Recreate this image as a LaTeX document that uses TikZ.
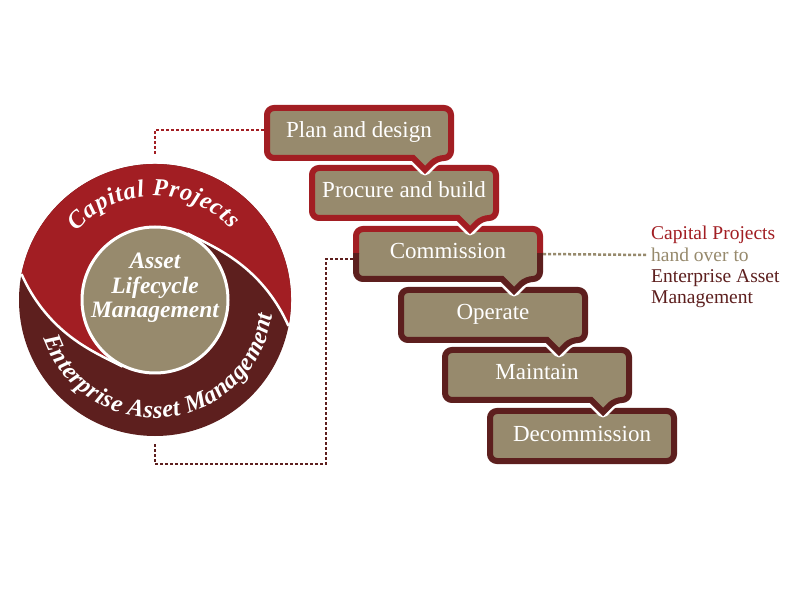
\documentclass[tikz,border=0pt]{standalone}
\usepackage{fontspec}
\setmainfont{Liberation Serif}
\usetikzlibrary{decorations.text}
\definecolor{capred}{HTML}{A21E23}
\definecolor{eamdark}{HTML}{5D1F1E}
\definecolor{khaki}{HTML}{978A6D}
\newcommand\boxfont{\fontsize{23}{27}\selectfont}
\newcommand\ringfont{\fontsize{24.5}{26}\selectfont\bfseries\itshape}
\newcommand\corefont{\fontsize{23.5}{24.5}\selectfont\bfseries\itshape}
\newcommand\notefont{\fontsize{19.5}{21.3}\selectfont}
\tikzset{
  stephalo/.style={draw=white, line width=11pt, rounded corners=7pt, line join=round},
  stepframe/.style={fill=khaki, line width=6pt, rounded corners=7pt},
  stepbox/.style={minimum width=190pt, minimum height=56pt, inner sep=0pt, text=white,
    font=\boxfont, text height=15pt, text depth=5pt},
  notetext/.style={anchor=base west, inner sep=0pt, font=\notefont},
  linkline/.style={line width=2.5pt, dash pattern=on 3pt off 2pt},
}
\newcommand\stepoutline[1]{\draw[#1] (-92,0) -- (-92,25) -- (92,25) -- (92,-25) -- (78,-25) [sharp corners] -- (66,-37) -- (54,-25) [rounded corners=7pt] -- (-92,-25) -- cycle;}
\newcommand\drawstep[5]{%
  \begin{scope}[shift={(#2,#3)}]
    \stepoutline{stephalo}
    \stepoutline{stepframe, draw=#4}
    \node[stepbox] (#1) at (0,0) {#5};
  \end{scope}}
\begin{document}
\begin{tikzpicture}[x=1pt, y=1pt]
\fill[white] (0,0) rectangle (800,600);
\useasboundingbox (0,0) rectangle (800,600);

% ring
\begin{scope}[shift={(155,300)}]
  \fill[eamdark] (0,0) circle[radius=136];
  \fill[capred] (169:136) arc[start angle=169, end angle=-11, radius=136]
    -- plot[domain=0:1, samples=40] ({-11+75*\x}:{74+62*(1-\x)^2})
    arc[start angle=64, end angle=244, radius=74]
    -- plot[domain=0:1, samples=40] ({169+75*(1-\x)}:{74+62*\x^2}) -- cycle;
  \draw[white, line width=2.5pt] plot[domain=0:1, samples=40] ({-11+75*\x}:{74+62*(1-\x)^2});
  \draw[white, line width=2.5pt] plot[domain=0:1, samples=40] ({169+75*\x}:{74+62*(1-\x)^2});
  \draw[white, line width=3pt, fill=khaki] (0,0) circle[radius=73];
  \node[circle, minimum size=272pt, inner sep=0pt] (ring) at (0,0) {};
  \path[decorate, decoration={text along path, text align=fit to path, text color=white,
    text={|\ringfont|Capital Projects}}]
    (139:104) arc[start angle=139, end angle=43, radius=104];
  \path[decorate, decoration={text along path, text align=fit to path, text color=white,
    text={|\ringfont|Enterprise Asset Management}}]
    (199:118) arc[start angle=199, end angle=353, radius=118];
\end{scope}
\node[font=\corefont, text=white, align=center] (core) at (155,312) {Asset\\Lifecycle\\Management};

% steps (drawn bottom-up so each pointer lies over the next box)
\begin{scope}[shift={(582,164)}]
  \draw[stephalo] (-92,-25) rectangle (92,25);
  \draw[stepframe, draw=eamdark] (-92,-25) rectangle (92,25);
  \node[stepbox] (b6) at (0,0) {Decommission};
\end{scope}
\drawstep{b5}{537}{225}{eamdark}{Maintain}
\drawstep{b4}{493}{285}{eamdark}{Operate}
\begin{scope}[shift={(448,346)}]
  \stepoutline{stephalo}
  \stepoutline{fill=khaki, draw=none, rounded corners=7pt}
  \begin{scope}
    \clip (-110,0) rectangle (110,40);
    \stepoutline{stepframe, fill=none, draw=capred}
  \end{scope}
  \begin{scope}
    \clip (-110,0) rectangle (110,-50);
    \stepoutline{stepframe, fill=none, draw=eamdark}
  \end{scope}
  \node[stepbox] (b3) at (0,0) {Commission};
\end{scope}
\drawstep{b2}{404}{407}{capred}{Procure and build}
\drawstep{b1}{359}{467}{capred}{Plan and design}

% connectors
\draw[linkline, capred] ([yshift=3pt]b1.west) -| ([yshift=8pt]ring.north);
\coordinate (turn) at (326,136);
\draw[linkline, eamdark] ([yshift=-8pt]ring.south) |- (turn) |- ([yshift=-5pt]b3.west);
\coordinate (handover) at (648,345);
\draw[linkline, khaki] (b3.east) -- (handover);

% note
\node[notetext, text=capred] (n1) at (651,360) {Capital Projects};
\node[notetext, text=khaki] (n2) at (651,338.5) {hand over to};
\node[notetext, text=eamdark] (n3) at (651,317) {Enterprise Asset};
\node[notetext, text=eamdark] (n4) at (651,296) {Management};
\end{tikzpicture}
\end{document}
